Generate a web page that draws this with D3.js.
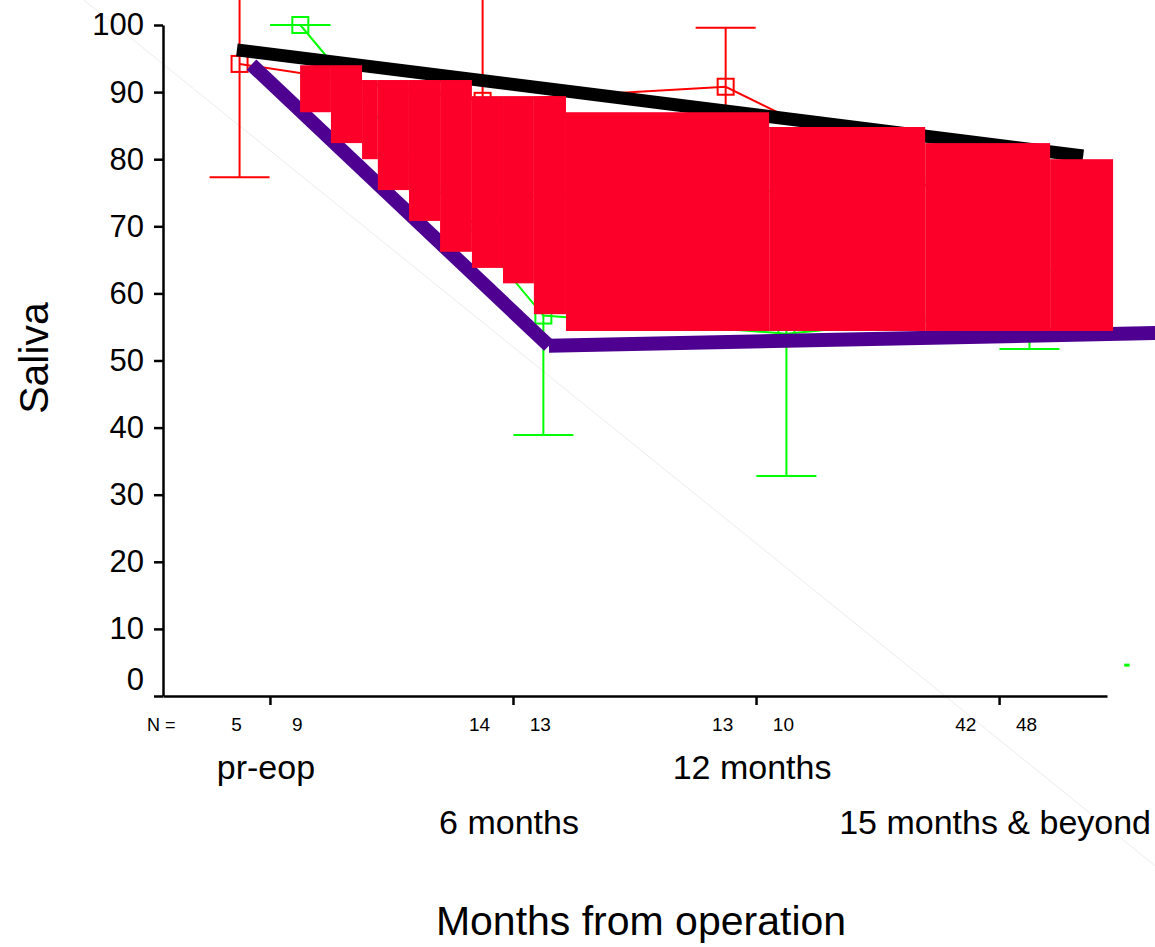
<!DOCTYPE html>
<html>
<head>
<meta charset="utf-8">
<script src="https://cdn.jsdelivr.net/npm/d3@7"></script>
<style>
  html, body { margin: 0; padding: 0; background: #fff; }
  svg { display: block; font-family: "Liberation Sans", Arial, sans-serif; }
</style>
</head>
<body>
<div id="svgOutput"></div>
<script>
// Data

const categories = ["pr-eop", "6 months", "12 months", "15 months & beyond"];
const categoryPos = [1, 2, 3, 4];
const yTicks = [0, 10, 20, 30, 40, 50, 60, 70, 80, 90, 100];

const redMean = [94.2, 88.7, 90.8, 73.0];
const redErr = [16.9, 18.0, 8.8, 7.0];
const redN = [5, 14, 13, 42];

const greenMean = [100, 56.7, 54.0, 57.5];
const greenErr = [0, 17.8, 21.2, 5.8];
const greenN = [9, 13, 10, 48];

// thick overlay lines (x in category units, y in saliva units)
const blackLineX = [0.864, 4.346];
const blackLineY = [96.3, 80.5];
const purpleLineX = [0.924, 2.148, 4.663];
const purpleLineY = [94.1, 52.2, 54.1];

// red stepped band
const bandEdges = [1.124, 1.251, 1.379, 1.444, 1.572, 1.700, 1.831, 1.959, 2.086, 2.218, 3.054, 3.696, 4.210, 4.469];
const bandTop = [94.0, 94.0, 91.8, 91.8, 91.8, 91.8, 89.4, 89.4, 89.4, 87.0, 84.8, 82.4, 80.0];
const bandBottom = [87.0, 82.4, 80.0, 75.4, 70.8, 66.2, 63.8, 61.5, 56.9, 54.4, 54.4, 54.4, 54.4];

// faint diagonal line and stray green key
const faintLineX = [0.235, 4.642];
const faintLineY = [103.7, -25.3];
const greenKeyX = [4.515, 4.537];
const greenKeyY = [4.6, 4.6];

(function () {
  // Config

  const width = 1155;
  const height = 947;
  const margin = { top: 25, right: 48, bottom: 251, left: 163 };
  const offset = 0.125;

  const svg = d3.select("#svgOutput")
    .append("svg")
    .attr("width", width)
    .attr("height", height);

  // Scales

  const xScale = d3.scaleLinear()
    .domain([0.56, 4.444])
    .range([margin.left, width - margin.right]);

  const yScale = d3.scaleLinear()
    .domain([0, 100])
    .range([height - margin.bottom, margin.top]);

  const line = d3.line()
    .x(d => xScale(d[0]))
    .y(d => yScale(d[1]));

  // Faint diagonal

  svg.append("path")
    .attr("d", line(d3.zip(faintLineX, faintLineY)))
    .attr("fill", "none")
    .attr("stroke", "#ececec")
    .attr("stroke-width", 1);

  // Axes

  const gx = svg.append("g")
    .attr("transform", "translate(0," + yScale(0) + ")")
    .call(d3.axisBottom(xScale).tickValues(categoryPos).tickSize(9).tickSizeOuter(0).tickFormat(""));
  gx.selectAll("path, line").attr("stroke", "#000").attr("stroke-width", 2.5);

  const gy = svg.append("g")
    .attr("transform", "translate(" + margin.left + ",0)")
    .call(d3.axisLeft(yScale).tickValues(yTicks).tickSize(9).tickSizeOuter(0).tickPadding(10));
  gy.selectAll("path, line").attr("stroke", "#000").attr("stroke-width", 2.5);
  gy.selectAll(".tick text")
    .attr("font-size", 31)
    .attr("font-family", "Liberation Sans, Arial, sans-serif")
    .attr("fill", "#000")
    .attr("y", d => d === 0 ? -16 : 0);

  // Series

  function drawSeries(means, errs, shift, color) {
    const g = svg.append("g");
    const pts = means.map((m, i) => ({ x: categoryPos[i] + shift, m: m, e: errs[i] }));

    g.append("path")
      .attr("d", line(pts.map(d => [d.x, d.m])))
      .attr("fill", "none")
      .attr("stroke", color)
      .attr("stroke-width", 2);

    g.selectAll("line.err")
      .data(pts)
      .join("line")
      .attr("class", "err")
      .attr("x1", d => xScale(d.x))
      .attr("x2", d => xScale(d.x))
      .attr("y1", d => yScale(d.m + d.e))
      .attr("y2", d => yScale(d.m - d.e))
      .attr("stroke", color)
      .attr("stroke-width", 2);

    [1, -1].forEach(s => {
      g.selectAll("line.cap" + s)
        .data(pts)
        .join("line")
        .attr("class", "cap" + s)
        .attr("x1", d => xScale(d.x) - 30)
        .attr("x2", d => xScale(d.x) + 30)
        .attr("y1", d => yScale(d.m + s * d.e))
        .attr("y2", d => yScale(d.m + s * d.e))
        .attr("stroke", color)
        .attr("stroke-width", 2);
    });

    g.selectAll("rect.marker")
      .data(pts)
      .join("rect")
      .attr("class", "marker")
      .attr("x", d => xScale(d.x) - 8)
      .attr("y", d => yScale(d.m) - 8)
      .attr("width", 16)
      .attr("height", 16)
      .attr("fill", "none")
      .attr("stroke", color)
      .attr("stroke-width", 2);
  }

  drawSeries(redMean, redErr, -offset, "#ff0000");
  drawSeries(greenMean, greenErr, offset, "#00ff00");

  svg.append("path")
    .attr("d", line(d3.zip(greenKeyX, greenKeyY)))
    .attr("stroke", "#00ff00")
    .attr("stroke-width", 3);

  // Thick lines

  svg.append("path")
    .attr("d", line(d3.zip(blackLineX, blackLineY)))
    .attr("fill", "none")
    .attr("stroke", "#000")
    .attr("stroke-width", 13);

  const purplePts = d3.zip(purpleLineX, purpleLineY);
  d3.pairs(purplePts).forEach(seg => {
    svg.append("path")
      .attr("d", line(seg))
      .attr("fill", "none")
      .attr("stroke", "#4e0091")
      .attr("stroke-width", 14);
  });

  // Red band

  svg.selectAll("rect.band")
    .data(bandTop.map((t, i) => ({ x0: bandEdges[i], x1: bandEdges[i + 1], top: t, bottom: bandBottom[i] })))
    .join("rect")
    .attr("class", "band")
    .attr("x", d => xScale(d.x0))
    .attr("width", d => xScale(d.x1) - xScale(d.x0))
    .attr("y", d => yScale(d.top))
    .attr("height", d => yScale(d.bottom) - yScale(d.top))
    .attr("fill", "#fc0029");

  // N row

  const nRow = yScale(0) + 35;
  svg.append("text")
    .attr("x", 147)
    .attr("y", nRow)
    .attr("font-size", 18)
    .text("N =");

  const nLabels = [];
  categoryPos.forEach((p, i) => {
    nLabels.push({ x: p - offset, n: redN[i] });
    nLabels.push({ x: p + offset, n: greenN[i] });
  });
  svg.selectAll("text.n")
    .data(nLabels)
    .join("text")
    .attr("class", "n")
    .attr("x", d => xScale(d.x) - 3)
    .attr("y", nRow)
    .attr("text-anchor", "middle")
    .attr("font-size", 19)
    .text(d => d.n);

  // Category labels, staggered

  svg.selectAll("text.cat")
    .data(categories)
    .join("text")
    .attr("class", "cat")
    .attr("x", (d, i) => xScale(categoryPos[i]) - 4)
    .attr("y", (d, i) => i % 2 === 0 ? 779 : 834)
    .attr("text-anchor", "middle")
    .attr("font-size", 34)
    .text(d => d);

  // Titles

  svg.append("text")
    .attr("x", 641)
    .attr("y", 935)
    .attr("text-anchor", "middle")
    .attr("font-size", 41)
    .text("Months from operation");

  svg.append("text")
    .attr("transform", "translate(48,358) rotate(-90)")
    .attr("text-anchor", "middle")
    .attr("font-size", 41)
    .text("Saliva");
})();
</script>
</body>
</html>
